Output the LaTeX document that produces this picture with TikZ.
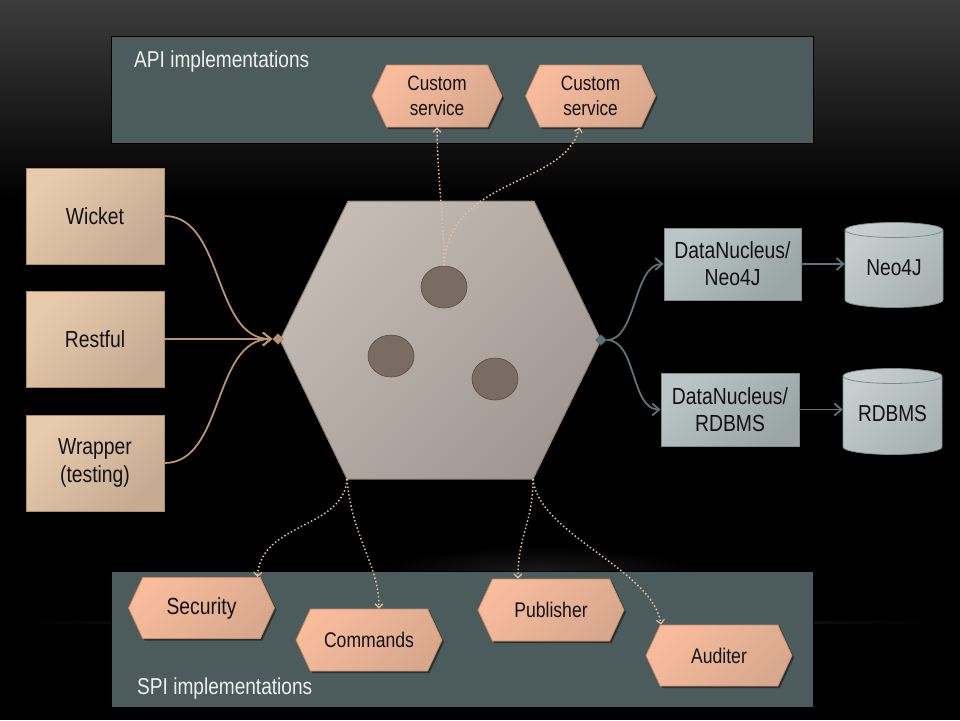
\documentclass[tikz,border=0pt]{standalone}
\usepackage{fontspec}
\setmainfont{Liberation Sans}[FakeStretch=0.83]
\usetikzlibrary{shapes.geometric,shapes.symbols,arrows.meta,shadows,calc}
\definecolor{bgtop}{HTML}{3C3C3C}
\definecolor{panelc}{HTML}{4C5B5B}
\definecolor{lboxA}{HTML}{E8CBAD}
\definecolor{lboxB}{HTML}{C6AB92}
\definecolor{lboxd}{HTML}{B08C66}
\definecolor{rboxA}{HTML}{BAC5C5}
\definecolor{rboxB}{HTML}{9AA6A6}
\definecolor{rboxd}{HTML}{7C8C8C}
\definecolor{cylA}{HTML}{C6CECE}
\definecolor{cylB}{HTML}{A8B2B2}
\definecolor{hexA}{HTML}{F8BC9C}
\definecolor{hexB}{HTML}{D8A88E}
\definecolor{hexd}{HTML}{C98A64}
\definecolor{bigA}{HTML}{C4BBB4}
\definecolor{bigB}{HTML}{A29893}
\definecolor{bigd}{HTML}{8D7D72}
\definecolor{dotfill}{HTML}{7A6C62}
\definecolor{dotdraw}{HTML}{5A4C43}
\definecolor{tanc}{HTML}{B8956A}
\definecolor{tealc}{HTML}{5E7474}
\definecolor{dotline}{HTML}{E0BFA4}
\definecolor{textc}{HTML}{111111}
\definecolor{glowc}{HTML}{3A2E22}
\tikzset{
  panel/.style={draw=black, line width=1pt, fill=panelc, inner sep=0pt},
  paneltext/.style={text=white!94!black, font=\fontsize{23}{27}\selectfont, inner sep=0pt},
  lbox/.style={draw=lboxd, line width=0.8pt, top color=lboxA, bottom color=lboxB, shading angle=45,
     minimum width=138, minimum height=96, align=center, text=textc, font=\fontsize{23.3}{28.5}\selectfont, inner sep=0pt},
  rbox/.style={draw=rboxd, line width=0.8pt, top color=rboxA, bottom color=rboxB, shading angle=45,
     minimum width=137, minimum height=72, align=center, text=textc, font=\fontsize{23.3}{27}\selectfont, inner sep=0pt},
  cylfill/.style={top color=cylA, bottom color=cylB, shading angle=45, draw=rboxd, line width=0.8pt},
  cyltext/.style={minimum width=98, minimum height=84, text=textc, font=\fontsize{23}{27}\selectfont, inner sep=0pt},
  hexs/.style={shape=signal, signal to=east and west, signal pointer angle=130, draw=hexd, line width=0.8pt,
     top color=hexA, bottom color=hexB, shading angle=45, minimum width=146, minimum height=61, inner sep=0pt,
     align=center, text=textc, font=\fontsize{21.2}{25}\selectfont,
     drop shadow={shadow xshift=2pt, shadow yshift=-2pt, opacity=0.45, fill=black}},
  bighex/.style={draw=bigd, line width=1pt, top color=bigA, bottom color=bigB, shading angle=45},
  dotnode/.style={ellipse, minimum width=46, minimum height=42, fill=dotfill, draw=dotdraw, line width=0.6pt, inner sep=0pt},
  lconn/.style={draw=tanc, line width=1.8pt, -{Straight Barb[length=8pt,width=13pt,line width=1.8pt]}},
  rconn/.style={draw=tealc, line width=1.8pt, -{Straight Barb[length=7pt,width=12pt,line width=1.8pt]}},
  dconn/.style={draw=dotline, line width=1.5pt, dash pattern=on 1.5pt off 2.3pt,
     -{Straight Barb[length=4pt,width=8pt,line width=1.2pt]}},
}
\begin{document}
\begin{tikzpicture}[x=1pt,y=-1pt]
\useasboundingbox (0,0) rectangle (960,720);
% background
\fill[black] (0,0) rectangle (960,720);
\shade[top color=bgtop, bottom color=black] (0,0) rectangle (960,200);
\shade[left color=black, right color=black, middle color=glowc] (20,621) rectangle (940,623);
\shade[inner color=black!90!white, outer color=black] (540,572) ellipse [x radius=160pt, y radius=26pt];

% panels
\node[panel, minimum width=702, minimum height=107] (apipanel) at (462,89.5) {};
\node[paneltext, anchor=west] (apilabel) at (134,62) {API implementations};
\node[panel, minimum width=702, minimum height=136] (spipanel) at (462,639) {};
\node[paneltext, anchor=west] (spilabel) at (137,689) {SPI implementations};

% left boxes
\node[lbox] (wicket) at (95,216) {Wicket};
\node[lbox] (restful) at (95,339) {Restful};
\node[lbox] (wrapper) at (95,463) {Wrapper\\(testing)};

% central hexagon
\coordinate (hTL) at (348,201);
\coordinate (hTR) at (534,201);
\coordinate (hR) at (601,340);
\coordinate (hBR) at (533,479);
\coordinate (hBL) at (347,479);
\coordinate (hL) at (280,340);
\draw[bighex] (hTL) -- (hTR) -- (hR) -- (hBR) -- (hBL) -- (hL) -- cycle;
\node[dotnode] (c1) at (444,287) {};
\node[dotnode] (c2) at (391,356) {};
\node[dotnode] (c3) at (495,379) {};

% diamonds
\node[diamond, fill=tanc, draw=tanc!80!black, line width=0.4pt, minimum size=11, inner sep=0pt] (ldia) at (278,339) {};
\node[diamond, fill=tealc, draw=tealc!80!black, line width=0.4pt, minimum size=11, inner sep=0pt] (rdia) at (601,340) {};

% right boxes
\node[rbox] (dn1) at (732.5,264) {DataNucleus/\\Neo4J};
\node[rbox, minimum width=138, minimum height=73] (dn2) at (730,409.5) {DataNucleus/\\RDBMS};

% cylinders
\shade[cylfill] (845,230) -- (845,300) arc[start angle=180, end angle=360, x radius=49pt, y radius=7.5pt]
   -- (943,230) arc[start angle=0, end angle=180, x radius=49pt, y radius=7.5pt] -- cycle;
\draw[draw=rboxd, line width=0.8pt] (845,230) arc[start angle=180, end angle=360, x radius=49pt, y radius=7.5pt];
\node[cyltext] (neo) at (894,268) {Neo4J};
\shade[cylfill] (843,376) -- (843,447) arc[start angle=180, end angle=360, x radius=49.5pt, y radius=7.5pt]
   -- (942,376) arc[start angle=0, end angle=180, x radius=49.5pt, y radius=7.5pt] -- cycle;
\draw[draw=rboxd, line width=0.8pt] (843,376) arc[start angle=180, end angle=360, x radius=49.5pt, y radius=7.5pt];
\node[cyltext, minimum width=99, minimum height=85] (rdb) at (892.5,414) {RDBMS};

% API hexes
\node[hexs, minimum width=130, minimum height=62, font=\fontsize{20.7}{25}\selectfont] (cs1) at (437,96) {Custom\\service};
\node[hexs, minimum width=130, minimum height=62, font=\fontsize{20.7}{25}\selectfont] (cs2) at (590.5,96) {Custom\\service};

% SPI hexes
\node[hexs, font=\fontsize{23.3}{27}\selectfont] (sec) at (201.5,608) {Security};
\node[hexs, minimum height=62] (cmd) at (369,640) {Commands};
\node[hexs, minimum height=62] (pub) at (551,610) {Publisher};
\node[hexs, minimum height=61] (aud) at (719,655.5) {Auditer};

% left connectors
\draw[lconn] (wicket.east) .. controls +(60,0) and +(-60,0) .. (ldia.west);
\draw[lconn] (restful.east) -- (ldia.west);
\draw[lconn] (wrapper.east) .. controls +(60,0) and +(-60,0) .. (ldia.west);

% right connectors
\draw[rconn] (rdia.east) .. controls +(30,0) and +(-30,0) .. (dn1.west);
\draw[rconn] (rdia.east) .. controls +(30,0) and +(-30,0) .. (dn2.west);
\draw[rconn] (dn1.east) -- (dn1.east -| neo.west);
\draw[rconn] (dn2.east) -- (dn2.east -| rdb.west);

% dotted connectors (API)
\draw[dconn] (c1.north) .. controls +(0,-40) and +(0,40) .. (cs1.south);
\draw[dconn] (c1.north) .. controls +(5,-90) and +(-15,60) .. ([xshift=-11pt]cs2.south);

% dotted connectors (SPI)
\draw[dconn] (hBL) .. controls +(-3,50) and +(3,-55) .. ([xshift=56pt]sec.north);
\draw[dconn] (hBL) .. controls +(5,60) and +(0,-45) .. ([xshift=10pt]cmd.north);
\draw[dconn] (hBR) .. controls +(0,45) and +(0,-45) .. ([xshift=-33pt]pub.north);
\draw[dconn] (hBR) .. controls +(5,55) and +(-8,-55) .. ([xshift=-58pt]aud.north);
\end{tikzpicture}
\end{document}
